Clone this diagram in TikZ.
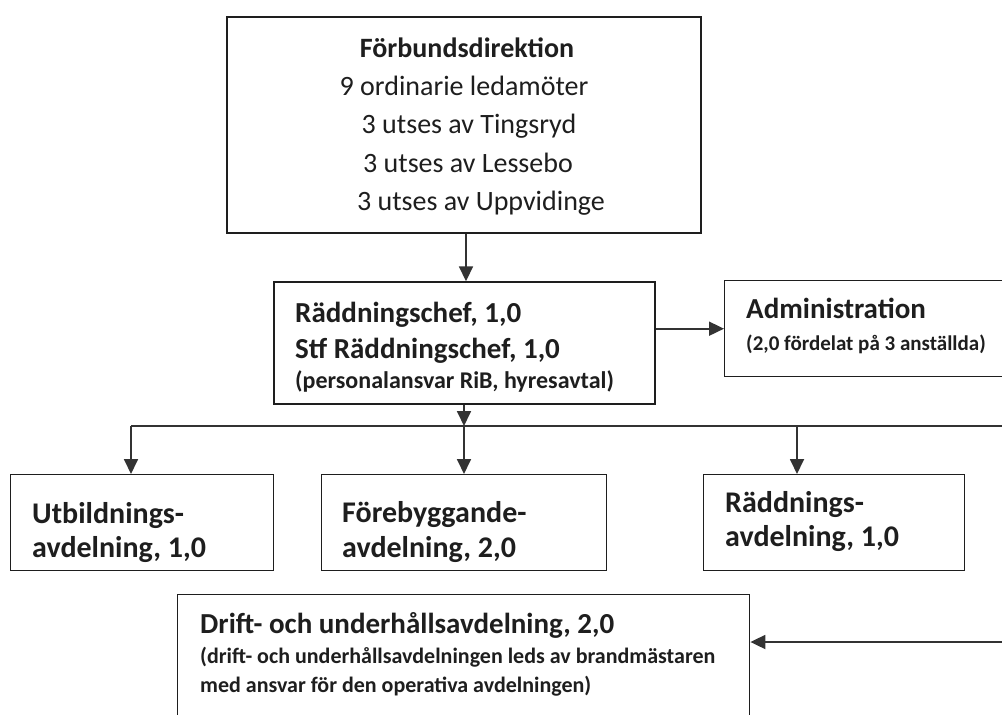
\documentclass[tikz,border=0pt]{standalone}
\usepackage{fontspec}
\setmainfont{Carlito}
\usetikzlibrary{arrows.meta,calc}
\definecolor{ink}{HTML}{1E1E1E}
\definecolor{arrowink}{HTML}{333333}
\tikzset{
  box/.style={draw=ink,line width=1.4pt,rectangle,inner sep=0pt},
  arr/.style={draw=arrowink,line width=1.8pt,-{Triangle[length=15pt,width=14pt]}},
  bus/.style={draw=arrowink,line width=1.8pt},
  txt/.style={inner sep=0pt,text=ink},
  topf/.style={txt,font=\fontsize{28}{32}\selectfont},
  topb/.style={txt,font=\bfseries\fontsize{28}{32}\selectfont},
  titf/.style={txt,font=\bfseries\fontsize{29}{34}\selectfont},
  rowf/.style={txt,font=\bfseries\fontsize{30}{36}\selectfont},
  subr/.style={txt,font=\bfseries\fontsize{24}{28}\selectfont},
  suba/.style={txt,font=\bfseries\fontsize{21}{25}\selectfont},
  subd/.style={txt,font=\bfseries\fontsize{22}{26}\selectfont},
}
\begin{document}
\begin{tikzpicture}[x=1pt,y=-1pt]
\useasboundingbox (0,0) rectangle (1002,715);
\clip (0,0) rectangle (1002,715);
\fill[white] (0,0) rectangle (1002,715);
% boxes
\node[box,minimum width=474pt,minimum height=216pt] (top) at (464,125) {};
\node[box,minimum width=381pt,minimum height=122pt] (rc) at (464.5,343) {};
\node[box,minimum width=300pt,minimum height=96pt,anchor=north west] (adm) at (724,280) {};
\node[box,minimum width=263pt,minimum height=96pt,anchor=north west] (utb) at (10,474) {};
\node[box,minimum width=285pt,minimum height=96pt,anchor=north west] (fore) at (321,474) {};
\node[box,minimum width=261pt,minimum height=96pt,anchor=north west] (radd) at (703,474) {};
\node[box,minimum width=572pt,minimum height=160pt,anchor=north west] (drift) at (177,594) {};
% texts
\node[topb,anchor=base] (t1) at (467,57) {Förbundsdirektion};
\node[topf,anchor=base] (t2) at (464,95) {9 ordinarie ledamöter};
\node[topf,anchor=base] (t3) at (469,133) {3 utses av Tingsryd};
\node[topf,anchor=base] (t4) at (468,172) {3 utses av Lessebo};
\node[topf,anchor=base] (t5) at (481,210) {3 utses av Uppvidinge};
\node[titf,anchor=base west] (r1) at (295,322) {Räddningschef, 1,0};
\node[titf,anchor=base west] (r2) at (295,358) {Stf Räddningschef, 1,0};
\node[subr,anchor=base west] (r3) at (295,388) {(personalansvar RiB, hyresavtal)};
\node[titf,anchor=base west] (a1) at (746,318) {Administration};
\node[suba,anchor=base west] (a2) at (746,350) {(2,0 fördelat på 3 anställda)};
\node[rowf,anchor=base west] (u1) at (32,523) {Utbildnings-};
\node[rowf,anchor=base west] (u2) at (32,557) {avdelning, 1,0};
\node[rowf,anchor=base west] (f1) at (342,522) {Förebyggande-};
\node[rowf,anchor=base west] (f2) at (342,557) {avdelning, 2,0};
\node[rowf,anchor=base west] (d1) at (725,512) {Räddnings-};
\node[rowf,anchor=base west] (d2) at (725,546) {avdelning, 1,0};
\node[titf,anchor=base west] (o1) at (200,633) {Drift- och underhållsavdelning, 2,0};
\node[subd,anchor=base west] (o2) at (200,663) {(drift- och underhållsavdelningen leds av brandmästaren};
\node[subd,anchor=base west] (o3) at (200,692) {med ansvar för den operativa avdelningen)};
% connectors
\coordinate (busc) at (464,426);
\coordinate (busl) at (131,426);
\coordinate (busr) at (1030,426);
\coordinate (busd) at (1030,642);
\draw[arr] (top.south -| 466,0) -- (rc.north -| 466,0);
\draw[arr] (adm.west -| rc.east) -- (adm.west);
\draw[arr] (rc.south -| busc) -- (busc);
\draw[bus] (busl) -- (busr) -- (busd);
\draw[arr] (busc) -- (fore.north -| busc);
\draw[arr] (busl) -- (utb.north -| busl);
\draw[arr] (radd.north -| 797,0) ++(0,-48) -- (radd.north -| 797,0);
\draw[arr] (busd) -- (drift.east |- busd);
\end{tikzpicture}
\end{document}
